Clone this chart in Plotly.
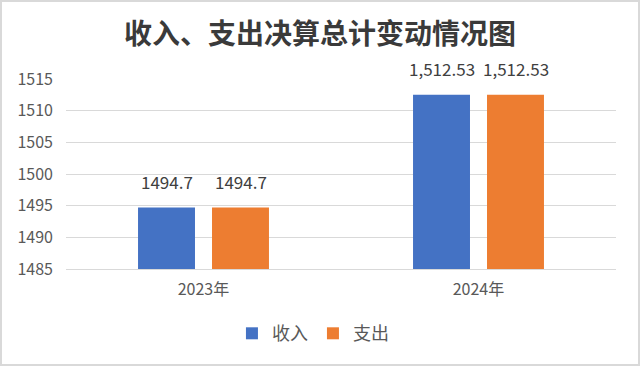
import plotly.graph_objects as go

categories = ["2023年", "2024年"]
income = [1494.7, 1512.53]
expense = [1494.7, 1512.53]
income_labels = ["1494.7", "1,512.53"]
expense_labels = ["1494.7", "1,512.53"]
series_names = ["收入", "支出"]
y_ticks = [1485, 1490, 1495, 1500, 1505, 1510, 1515]

BLUE = "#4472C4"
ORANGE = "#ED7D31"
FONT = "Noto Sans CJK SC"

fig = go.Figure()
fig.add_trace(go.Bar(x=categories, y=income, name=series_names[0], marker_color=BLUE,
                     marker_line_width=0))
fig.add_trace(go.Bar(x=categories, y=expense, name=series_names[1], marker_color=ORANGE,
                     marker_line_width=0))

annotations = []
for cat, v, lab in zip(categories, income, income_labels):
    annotations.append(dict(x=cat, y=v, xref="x", yref="y", text=lab, showarrow=False,
                            xshift=-37, yshift=12, yanchor="bottom",
                            font=dict(family=FONT, size=17, color="#404040")))
for cat, v, lab in zip(categories, expense, expense_labels):
    annotations.append(dict(x=cat, y=v, xref="x", yref="y", text=lab, showarrow=False,
                            xshift=37, yshift=12, yanchor="bottom",
                            font=dict(family=FONT, size=17, color="#404040")))

W, H = 640, 366
ml, mr, mt, mb = 66, 24, 79, 97

fig.update_layout(
    width=W, height=H,
    margin=dict(l=ml, r=mr, t=mt, b=mb),
    paper_bgcolor="white", plot_bgcolor="white",
    barmode="group", bargap=0.462, bargroupgap=0.23,
    title=dict(text="<b>收入、支出决算总计变动情况图</b>", x=0.5, xref="container", xanchor="center",
               y=1 - 34 / H, yanchor="middle",
               font=dict(family=FONT, size=28, color="#3a3a3a")),
    yaxis=dict(range=[1485, 1515], tickvals=y_ticks, showgrid=True, gridcolor="#d9d9d9",
               gridwidth=1, zeroline=False, showline=False, ticks="",
               tickfont=dict(family=FONT, size=16, color="#595959"), ticklabelstandoff=12),
    xaxis=dict(showline=True, linecolor="#d9d9d9", linewidth=1, ticks="",
               tickfont=dict(family=FONT, size=16, color="#595959"), ticklabelstandoff=6),
    legend=dict(orientation="h", x=0.449, xanchor="center", y=-0.34, yanchor="middle",
                font=dict(family=FONT, size=18, color="#595959"), itemwidth=30,
                traceorder="normal"),
    showlegend=True,
    annotations=annotations,
    shapes=[dict(type="rect", xref="paper", yref="paper",
                 x0=-(ml - 1) / (W - ml - mr), x1=1 + (mr - 1) / (W - ml - mr),
                 y0=-(mb - 1) / (H - mt - mb), y1=1 + (mt - 1) / (H - mt - mb),
                 line=dict(color="#d9d9d9", width=2), fillcolor="rgba(0,0,0,0)", layer="below")],
)

fig.write_html("out.html", config={"displayModeBar": False},
               post_script="document.body.style.margin='0';document.body.style.overflow='hidden';")
